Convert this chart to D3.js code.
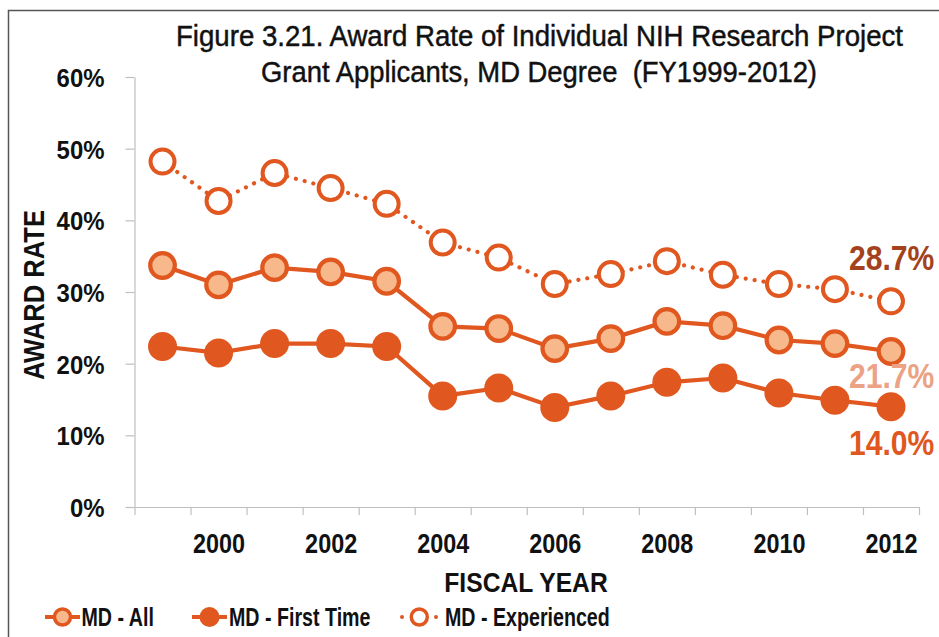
<!DOCTYPE html>
<html>
<head>
<meta charset="utf-8">
<script src="https://cdn.jsdelivr.net/npm/d3@7"></script>
<style>
  html, body { margin: 0; padding: 0; background: #fff; }
  svg { display: block; }
  text { font-family: "Liberation Sans", Arial, sans-serif; }
  .keep { white-space: pre; }
</style>
</head>
<body>
<svg id="chart" width="939" height="637"></svg>
<script>
// ---- Data ----
const years = [1999, 2000, 2001, 2002, 2003, 2004, 2005, 2006, 2007, 2008, 2009, 2010, 2011, 2012];
const mdAll = [33.7, 31.0, 33.4, 32.8, 31.5, 25.2, 24.9, 22.1, 23.5, 25.9, 25.3, 23.3, 22.8, 21.7];
const mdFirstTime = [22.4, 21.5, 22.8, 22.8, 22.4, 15.5, 16.6, 13.9, 15.5, 17.4, 18.0, 15.9, 14.9, 14.0];
const mdExperienced = [48.2, 42.7, 46.6, 44.5, 42.3, 36.9, 34.8, 31.1, 32.5, 34.3, 32.4, 31.1, 30.4, 28.7];
const yTicks = [0, 10, 20, 30, 40, 50, 60];
const xLabelYears = [2000, 2002, 2004, 2006, 2008, 2010, 2012];
const seriesNames = ["MD - All", "MD - First Time", "MD - Experienced"];
const endLabels = ["28.7%", "21.7%", "14.0%"];
const titleLines = ["Figure 3.21. Award Rate of Individual NIH Research Project",
                    "Grant Applicants, MD Degree  (FY1999-2012)"];

// ---- Styles ----
const ORANGE = "#E0571F";
const LIGHT = "#F7B98B";

const svg = d3.select("#chart");

function condense(sel, k) {
  sel.each(function () {
    const len = this.getComputedTextLength();
    d3.select(this).attr("textLength", len * k).attr("lengthAdjust", "spacingAndGlyphs");
  });
}

// frame
svg.append("rect").attr("x", 8.5).attr("y", 10.5).attr("width", 960).attr("height", 660)
  .attr("fill", "none").attr("stroke", "#555").attr("stroke-width", 1.5);

// scales
const x = d3.scaleLinear().domain([1998.5, 2012.5]).range([134.5, 919]);
const y = d3.scaleLinear().domain([0, 60]).range([507, 77]);

// y axis
const yAxis = svg.append("g").attr("transform", "translate(134.5,0)")
  .call(d3.axisLeft(y).tickValues(yTicks).tickSize(9).tickSizeOuter(0).tickPadding(21)
    .tickFormat(d => d + "%"));
yAxis.select(".domain").attr("stroke", "#bfbfbf").attr("stroke-width", 1.2);
yAxis.selectAll(".tick line").attr("stroke", "#bfbfbf").attr("stroke-width", 1.2);
yAxis.selectAll(".tick text").attr("fill", "#111").attr("font-size", 26).attr("font-weight", "bold")
  .attr("dy", "0.36em").call(condense, 0.92);

// x axis ticks (band boundaries)
const halfYears = d3.range(1998.5, 2013, 1);
const xAxis = svg.append("g").attr("transform", "translate(0,507)")
  .call(d3.axisBottom(x).tickValues(halfYears).tickSize(8).tickSizeOuter(0).tickFormat(""));
xAxis.select(".domain").attr("stroke", "#bfbfbf").attr("stroke-width", 1.2);
xAxis.selectAll(".tick line").attr("stroke", "#bfbfbf").attr("stroke-width", 1.2);

// x labels
const xLab = svg.append("g").attr("transform", "translate(0,507)")
  .call(d3.axisBottom(x).tickValues(xLabelYears).tickSize(0).tickPadding(26).tickFormat(d3.format("d")));
xLab.select(".domain").remove();
xLab.selectAll(".tick text").attr("fill", "#111").attr("font-size", 28).attr("font-weight", "bold")
  .attr("dy", "0.71em").call(condense, 0.835);

// axis titles
svg.append("text").attr("x", 526).attr("y", 591.5).attr("text-anchor", "middle")
  .attr("font-size", 28).attr("font-weight", "bold").attr("fill", "#111")
  .text("FISCAL YEAR").call(condense, 0.88);
svg.append("text").attr("transform", "translate(43.5,295) rotate(-90)").attr("text-anchor", "middle")
  .attr("font-size", 29).attr("font-weight", "bold").attr("fill", "#111")
  .text("AWARD RATE").attr("textLength", 170).attr("lengthAdjust", "spacingAndGlyphs");

// title
svg.append("text").attr("class", "keep").attr("x", 539.5).attr("y", 46).attr("text-anchor", "middle")
  .attr("font-size", 29).attr("fill", "#111").attr("stroke", "#111").attr("stroke-width", 0.45)
  .text(titleLines[0])
  .attr("textLength", 727).attr("lengthAdjust", "spacingAndGlyphs");
svg.append("text").attr("class", "keep").attr("x", 539).attr("y", 81.5).attr("text-anchor", "middle")
  .attr("font-size", 29).attr("fill", "#111").attr("stroke", "#111").attr("stroke-width", 0.45)
  .text(titleLines[1])
  .attr("textLength", 556).attr("lengthAdjust", "spacingAndGlyphs");

// lines
const line = d3.line().x((d, i) => x(years[i])).y(d => y(d));

svg.append("path").datum(mdExperienced).attr("d", line).attr("fill", "none")
  .attr("stroke", ORANGE).attr("stroke-width", 4.2).attr("stroke-linecap", "round")
  .attr("stroke-dasharray", "0.01 9");
svg.append("path").datum(mdAll).attr("d", line).attr("fill", "none")
  .attr("stroke", ORANGE).attr("stroke-width", 4.2);
svg.append("path").datum(mdFirstTime).attr("d", line).attr("fill", "none")
  .attr("stroke", ORANGE).attr("stroke-width", 4.2);

// markers
svg.append("g").selectAll("circle").data(mdExperienced).join("circle")
  .attr("cx", (d, i) => x(years[i])).attr("cy", d => y(d)).attr("r", 12)
  .attr("fill", "#fff").attr("stroke", ORANGE).attr("stroke-width", 4);
svg.append("g").selectAll("circle").data(mdAll).join("circle")
  .attr("cx", (d, i) => x(years[i])).attr("cy", d => y(d)).attr("r", 12.3)
  .attr("fill", LIGHT).attr("stroke", ORANGE).attr("stroke-width", 4.2);
svg.append("g").selectAll("circle").data(mdFirstTime).join("circle")
  .attr("cx", (d, i) => x(years[i])).attr("cy", d => y(d)).attr("r", 14.5)
  .attr("fill", ORANGE);

// end labels (horizontally condensed via transform so the box stays inside the page)
const lastIdx = years.length - 1;
const endInfo = [
  { v: mdExperienced[lastIdx], dy: -31, c: "#A3421C" },
  { v: mdAll[lastIdx], dy: 36.5, c: "#EBA285" },
  { v: mdFirstTime[lastIdx], dy: 48.5, c: ORANGE }
];
svg.append("g").selectAll("text").data(endInfo).join("text")
  .attr("transform", d => `translate(849,${y(d.v) + d.dy}) scale(0.86,1)`)
  .attr("x", 0).attr("y", 0)
  .attr("font-size", 35).attr("font-weight", "bold").attr("fill", d => d.c)
  .text((d, i) => endLabels[i]);

// legend
const lg = svg.append("g");
const ly = 617;
// MD - All
lg.append("line").attr("x1", 45).attr("x2", 80).attr("y1", ly).attr("y2", ly).attr("stroke", ORANGE).attr("stroke-width", 4);
lg.append("circle").attr("cx", 62.5).attr("cy", ly).attr("r", 8).attr("fill", LIGHT).attr("stroke", ORANGE).attr("stroke-width", 3.5);
// MD - First Time
lg.append("line").attr("x1", 192).attr("x2", 227).attr("y1", ly).attr("y2", ly).attr("stroke", ORANGE).attr("stroke-width", 4);
lg.append("circle").attr("cx", 209.5).attr("cy", ly).attr("r", 10).attr("fill", ORANGE);
// MD - Experienced
lg.append("circle").attr("cx", 402).attr("cy", ly).attr("r", 2).attr("fill", ORANGE);
lg.append("circle").attr("cx", 436).attr("cy", ly).attr("r", 2).attr("fill", ORANGE);
lg.append("circle").attr("cx", 419.3).attr("cy", ly).attr("r", 8).attr("fill", "#fff").attr("stroke", ORANGE).attr("stroke-width", 3.5);

const legX = [81.5, 229, 445];
lg.selectAll("text.leg").data(seriesNames).join("text").attr("class", "leg")
  .attr("x", (d, i) => legX[i]).attr("y", 625.5)
  .attr("font-size", 25.5).attr("font-weight", "bold").attr("fill", "#111")
  .text(d => d).call(condense, 0.77);
</script>
</body>
</html>
